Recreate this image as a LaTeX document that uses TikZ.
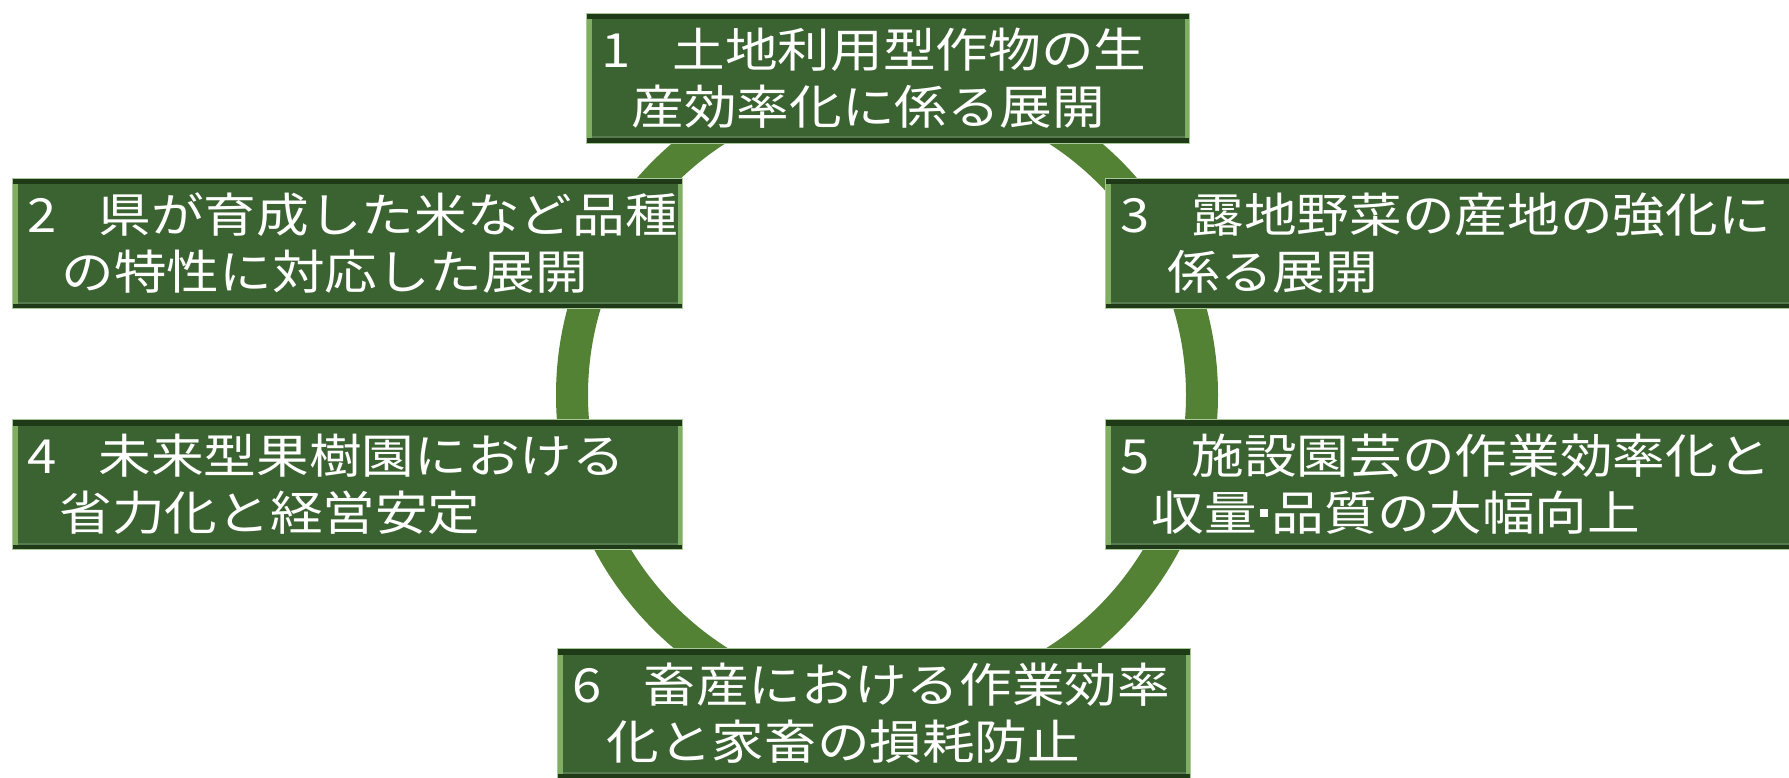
\documentclass[tikz,border=0pt]{standalone}
\usepackage{fontspec}
\newfontfamily\jp{Noto Sans CJK JP}[FakeStretch=1.12]
\definecolor{ringc}{HTML}{548235}
\definecolor{boxfill}{HTML}{3B6231}
\definecolor{bevdark}{HTML}{1F3A16}
\definecolor{bevlight}{HTML}{7FAE62}
\definecolor{boxedge}{HTML}{A9C99A}
\newcommand{\gap}{\hspace{42pt}}
\newcommand{\sqdot}{\hspace{3pt}\raisebox{14pt}{\rule{8pt}{8pt}}\hspace{4pt}}
\tikzset{
  ring/.style={draw=ringc, line width=32pt},
  gbox/.style={draw=boxedge, line width=1pt, fill=boxfill, text=white,
    font=\jp\fontsize{47}{57}\selectfont, align=left, inner xsep=15pt, inner ysep=0pt,
    minimum height=130pt, anchor=north west,
    path picture={
      \fill[bevlight] (path picture bounding box.north west) rectangle ([xshift=5pt]path picture bounding box.south west);
      \fill[bevlight] (path picture bounding box.north east) rectangle ([xshift=-5pt]path picture bounding box.south east);
      \fill[bevdark] (path picture bounding box.north west) rectangle ([yshift=-6pt]path picture bounding box.north east);
      \fill[bevdark] (path picture bounding box.south west) rectangle ([yshift=5pt]path picture bounding box.south east);
      \fill[boxfill!85!white] ([xshift=5pt,yshift=5pt]path picture bounding box.south west) rectangle ([xshift=-5pt,yshift=7pt]path picture bounding box.south east);
    }},
}
\begin{document}
\begin{tikzpicture}[x=1pt,y=-1pt]
\useasboundingbox (0,0) rectangle (1789,778);
\clip (0,0) rectangle (1789,778);
\fill[white] (0,0) rectangle (1789,778);
\draw[ring] (887,395) circle[radius=315];
\node[gbox, text width=573pt] (b1) at (586,13) {1\gap 土地利用型作物の生\\\hspace*{30pt}産効率化に係る展開};
\node[gbox, text width=640pt] (b2) at (12,178) {2\gap 県が育成した米など品種\\\hspace*{34pt}の特性に対応した展開};
\node[gbox, text width=700pt] (b3) at (1105,178) {3\gap 露地野菜の産地の強化に\\\hspace*{47pt}係る展開};
\node[gbox, text width=640pt] (b4) at (12,419) {4\gap 未来型果樹園における\\\hspace*{32pt}省力化と経営安定};
\node[gbox, text width=700pt] (b5) at (1105,419) {5\gap 施設園芸の作業効率化と\\\hspace*{31pt}収量\sqdot 品質の大幅向上};
\node[gbox, text width=603pt] (b6) at (557,648) {6\gap 畜産における作業効率\\\hspace*{34pt}化と家畜の損耗防止};
\end{tikzpicture}
\end{document}
